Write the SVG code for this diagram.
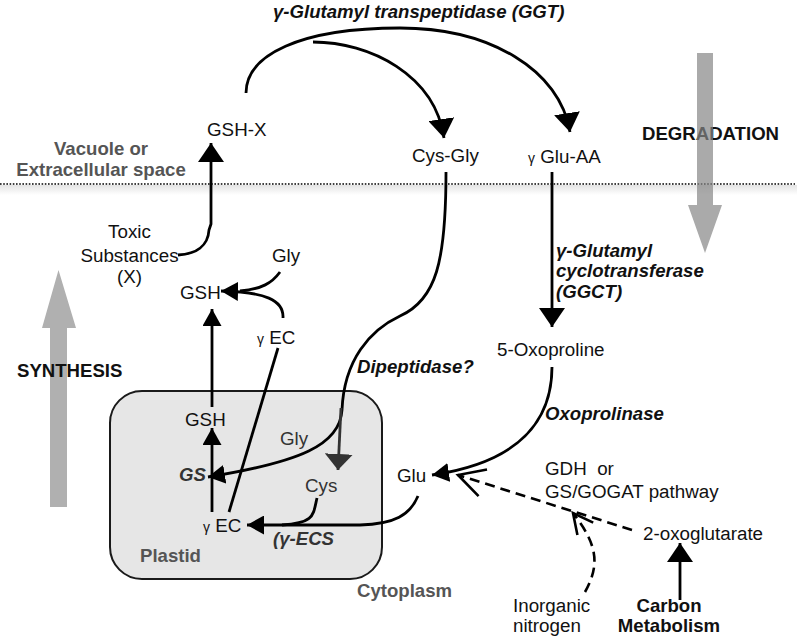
<svg xmlns="http://www.w3.org/2000/svg" width="797" height="639" viewBox="0 0 797 639">
<style>
text{font-family:"Liberation Sans",Arial,sans-serif;font-size:18.8px;fill:#111}
.b{font-weight:bold;font-size:18.6px}
.bi{font-weight:bold;font-style:italic;font-size:18.6px}
.g{fill:#555}
.d{fill:#333}
.gm{font-size:14px;font-style:normal;font-weight:normal}
.ln{fill:none;stroke:#000;stroke-width:2.8}
.dk{stroke:#333}
.dash{fill:none;stroke:#000;stroke-width:2.6;stroke-dasharray:10 6}
</style>
<defs>
<marker id="ah" markerUnits="userSpaceOnUse" viewBox="0 0 19 26" refX="19" refY="13" markerWidth="19" markerHeight="26" orient="auto"><path d="M0,0L19,13L0,26z" fill="#000"/></marker>
<marker id="ahs" markerUnits="userSpaceOnUse" viewBox="0 0 17 19" refX="17" refY="9.5" markerWidth="17" markerHeight="19" orient="auto"><path d="M0,0L17,9.5L0,19z" fill="#000"/></marker>
<marker id="ahd" markerUnits="userSpaceOnUse" viewBox="0 0 16 28" refX="16" refY="14" markerWidth="16" markerHeight="28" orient="auto"><path d="M0,0L16,14L0,28z" fill="#333"/></marker>
<marker id="ao" markerUnits="userSpaceOnUse" viewBox="-2 -2 30 32" refX="26" refY="14" markerWidth="30" markerHeight="32" orient="auto" overflow="visible"><path d="M0,0L26,14L0,28" fill="none" stroke="#000" stroke-width="2.6"/></marker>
<marker id="aos" markerUnits="userSpaceOnUse" viewBox="-2 -2 24 26" refX="20" refY="10" markerWidth="24" markerHeight="26" orient="auto" overflow="visible"><path d="M0,0L20,10L0,20" fill="none" stroke="#000" stroke-width="2.6"/></marker>
<linearGradient id="sh" x1="0" y1="0" x2="0" y2="1"><stop offset="0" stop-color="#e4e4e4"/><stop offset="1" stop-color="#fff"/></linearGradient>
</defs>

<g id="membrane">
<rect x="0" y="185" width="797" height="10" fill="url(#sh)"/>
<line x1="0" y1="184" x2="795" y2="184" stroke="#000" stroke-width="1.6" stroke-dasharray="1.6 1.6"/>
</g>

<g id="plastid">
<rect x="110" y="391" width="272" height="188" rx="32" fill="#e6e6e6" stroke="#1a1a1a" stroke-width="2"/>
<text class="b g" x="140" y="562">Plastid</text>
</g>

<g id="synthesis">
<polygon points="50,507 67,507 67,328 76,328 58.5,270 42,328 50,328" fill="#b0b0b0"/>
<text class="b" x="17" y="377">SYNTHESIS</text>
</g>

<g id="degradation">
<text class="b" x="642" y="140">DEGRADATION</text>
<polygon points="697,53 713,53 713,205 722,205 705,253 688,205 697,205" fill="#868686" opacity="0.7"/>
</g>

<g id="labels">
<text class="bi" x="273" y="18">γ-Glutamyl transpeptidase (GGT)</text>
<text class="b g" text-anchor="middle" x="101" y="155">Vacuole or</text>
<text class="b g" text-anchor="middle" x="101" y="176">Extracellular space</text>
<text class="bi" x="556" y="257">γ-Glutamyl</text>
<text class="bi" x="556" y="277">cyclotransferase</text>
<text class="bi" x="556" y="298">(GGCT)</text>
<text class="bi" x="357" y="373">Dipeptidase?</text>
<text class="bi" x="545" y="420">Oxoprolinase</text>
<text x="545" y="475" xml:space="preserve">GDH  or</text>
<text x="545" y="498">GS/GOGAT pathway</text>
<text class="b g" x="357" y="597">Cytoplasm</text>
<text class="bi d" x="179" y="481">GS</text>
<text class="bi d" x="273" y="545">(γ-ECS</text>
</g>

<g id="n-gshx"><text x="207" y="136">GSH-X</text></g>
<g id="n-cysgly"><text x="412" y="162">Cys-Gly</text></g>
<g id="n-gluaa"><text x="528" y="163"><tspan class="gm">γ</tspan> Glu-AA</text></g>
<g id="n-toxic">
<text text-anchor="middle" x="129.5" y="238">Toxic</text>
<text text-anchor="middle" x="129.5" y="262">Substances</text>
<text text-anchor="middle" x="129.5" y="283">(X)</text>
</g>
<g id="n-gly1"><text x="272" y="262">Gly</text></g>
<g id="n-gsh1"><text x="180" y="299">GSH</text></g>
<g id="n-gec1"><text x="257" y="344"><tspan class="gm">γ</tspan> EC</text></g>
<g id="n-oxo"><text x="497" y="356">5-Oxoproline</text></g>
<g id="n-gsh2"><text x="185" y="426">GSH</text></g>
<g id="n-gly2"><text class="d" x="280" y="445">Gly</text></g>
<g id="n-cys"><text class="d" x="305" y="492">Cys</text></g>
<g id="n-gec2"><text x="203" y="532"><tspan class="gm">γ</tspan> EC</text></g>
<g id="n-glu"><text x="397" y="482">Glu</text></g>
<g id="n-2og"><text x="643" y="540">2-oxoglutarate</text></g>
<g id="n-inorg">
<text x="513" y="612">Inorganic</text>
<text x="513" y="632">nitrogen</text>
</g>
<g id="n-carbon">
<text class="b" text-anchor="middle" x="669" y="612">Carbon</text>
<text class="b" text-anchor="middle" x="669" y="632">Metabolism</text>
</g>

<g id="connectors">
<path class="ln" d="M178,255 C196,254 208,246 209,230 L211,224 L211,143" marker-end="url(#ah)"/>
<path class="ln" d="M246,93 C246,55 300,28 400,28 C490,28 560,70 570,132" marker-end="url(#ah)"/>
<path class="ln" d="M313,42 C370,42 435,75 444,138" marker-end="url(#ah)"/>
<path class="ln" d="M446,172 C446,262 436,300 400,316 C370,330 344,360 342,410 C340,445 300,462 208,477" marker-end="url(#ahs)"/>
<path class="ln dk" d="M341,408 L338,470" marker-end="url(#ahd)"/>
<path class="ln" d="M552,172 L552,327" marker-end="url(#ah)"/>
<path class="ln" d="M552,367 C552,420 520,462 432,475" marker-end="url(#ahs)"/>
<path class="dash" d="M632,530 L458,475" marker-end="url(#ao)"/>
<path class="dash" d="M585,592 C600,565 598,545 573,513" marker-end="url(#aos)"/>
<path class="ln" d="M680,600 L680,543" marker-end="url(#ah)"/>
<path class="ln" d="M212,407 L212,309" marker-end="url(#ahs)"/>
<path class="ln" d="M212,512 L212,428" marker-end="url(#ahs)"/>
<path class="ln" d="M229,512 L278,348"/>
<path class="ln" d="M283,318 C284,300 265,292 221,291" marker-end="url(#ahs)"/>
<path class="ln" d="M280,272 C272,283 262,289 240,291"/>
<path class="ln" d="M418,496 C410,515 395,524 360,525 L247,525" marker-end="url(#ahs)"/>
<path class="ln" d="M317,498 C313,515 315,523 282,525"/>
</g>
</svg>
